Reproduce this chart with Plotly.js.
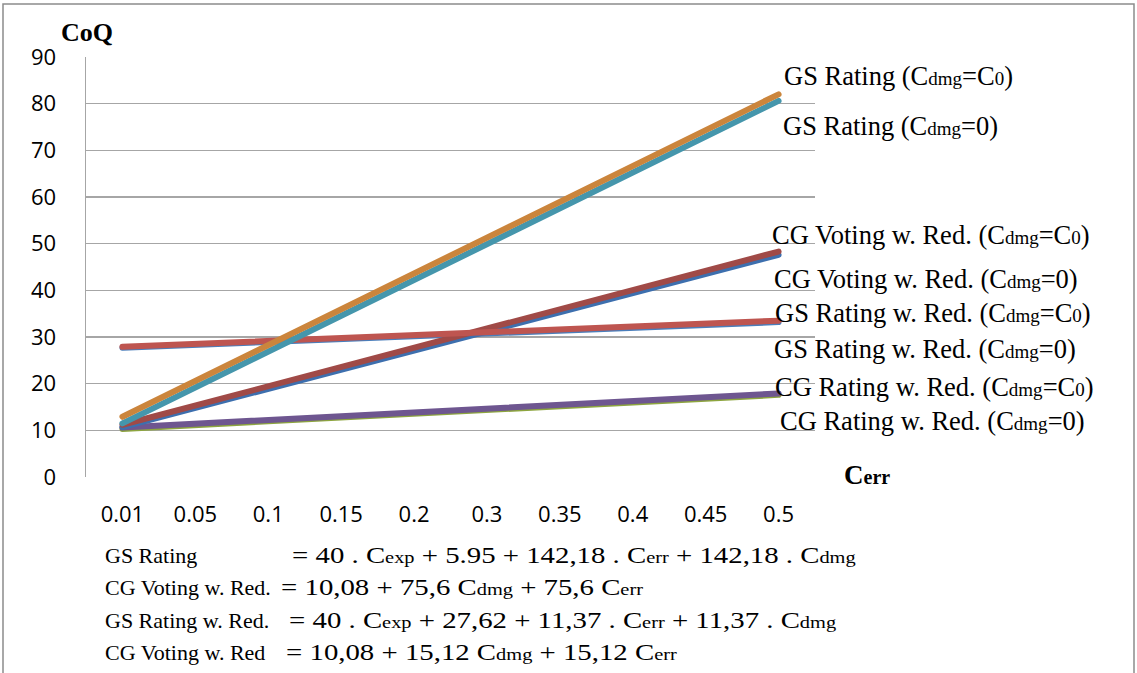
<!DOCTYPE html>
<html>
<head>
<meta charset="utf-8">
<script src="https://cdn.plot.ly/plotly-3.0.1.min.js"></script>
<style>
html,body{margin:0;padding:0;background:#fff;}
#chart{width:1137px;height:673px;}
.scatterlayer .js-line{stroke-linecap:round !important;}
g.annotation[data-index="11"] text.annotation-text,
g.annotation[data-index="13"] text.annotation-text,
g.annotation[data-index="15"] text.annotation-text,
g.annotation[data-index="17"] text.annotation-text{
  transform-box: fill-box; transform-origin: left center; transform: scaleX(1.2);
}
</style>
</head>
<body>
<div id="chart"></div>
<script>
// Categories (Cerr)
const categories = ["0.01","0.05","0.1","0.15","0.2","0.3","0.35","0.4","0.45","0.5"];

// Series values
const gsRatingC0      = [12.9, 20.6, 28.3, 35.9, 43.6, 51.3, 59.0, 66.7, 74.3, 82.0];
const gsRating0       = [11.5, 19.2, 26.9, 34.5, 42.2, 49.9, 57.6, 65.3, 72.9, 80.6];
const cgVotingRedC0   = [11.2, 15.3, 19.4, 23.6, 27.7, 31.8, 35.9, 40.0, 44.2, 48.3];
const cgVotingRed0    = [10.7, 14.8, 18.9, 23.0, 27.1, 31.2, 35.3, 39.4, 43.5, 47.6];
const gsRatingRedC0   = [27.9, 28.5, 29.1, 29.8, 30.4, 31.0, 31.6, 32.2, 32.9, 33.5];
const gsRatingRed0    = [27.7, 28.3, 28.9, 29.5, 30.1, 30.8, 31.4, 32.0, 32.6, 33.2];
const cgRatingRedC0   = [10.6, 11.4, 12.2, 13.0, 13.8, 14.7, 15.5, 16.3, 17.1, 17.9];
const cgRatingRed0    = [10.3, 11.1, 11.9, 12.7, 13.5, 14.4, 15.2, 16.0, 16.8, 17.6];

const yTicks = [0,10,20,30,40,50,60,70,80,90];

const sub = s => '<span style="font-size:19px">' + s + '</span>';
const subF = s => '<span style="font-size:17px">' + s + '</span>';

const seriesNames = [
  "GS Rating (C" + sub("dmg") + "=C" + sub("0") + ")",
  "GS Rating (C" + sub("dmg") + "=0)",
  "CG Voting w. Red. (C" + sub("dmg") + "=C" + sub("0") + ")",
  "CG Voting w. Red. (C" + sub("dmg") + "=0)",
  "GS Rating w. Red. (C" + sub("dmg") + "=C" + sub("0") + ")",
  "GS Rating w. Red. (C" + sub("dmg") + "=0)",
  "CG Rating w. Red. (C" + sub("dmg") + "=C" + sub("0") + ")",
  "CG Rating w. Red. (C" + sub("dmg") + "=0)"
];

function line(y, color, name) {
  return {x: categories, y: y, type: 'scatter', mode: 'lines', name: name,
          line: {color: color, width: 6}, hoverinfo: 'skip'};
}

const data = [
  line(gsRatingRed0, '#4A7EBB', 'GS Rating w. Red. (0)'),
  line(cgRatingRed0, '#8DA53F', 'CG Rating w. Red. (0)'),
  line(cgRatingRedC0, '#6E5690', 'CG Rating w. Red. (C0)'),
  line(cgVotingRed0, '#3D6FAE', 'CG Voting w. Red. (0)'),
  line(cgVotingRedC0, '#A04A47', 'CG Voting w. Red. (C0)'),
  line(gsRatingRedC0, '#BE5550', 'GS Rating w. Red. (C0)'),
  line(gsRating0, '#4596AC', 'GS Rating (0)'),
  line(gsRatingC0, '#CB853C', 'GS Rating (C0)')
];

const serif = 'Liberation Serif, Times New Roman, serif';
const labelFont = {family: serif, size: 26.5, color: '#000'};

// label positions in paper px (left edge, center y)
const labelPos = [[782,76],[781,126],[770,235],[772,279],[773,313],[772,349],[773,387],[778,421]];

const W = 1137, H = 673, L = 86, R = 322, T = 57, B = 196;
const pw = W - L - R, ph = H - T - B;
const px = x => (x - L) / pw;
const py = y => 1 - (y - T) / ph;

const annotations = seriesNames.map((t, i) => ({
  text: t, xref: 'paper', yref: 'paper', x: px(labelPos[i][0]), y: py(labelPos[i][1]),
  xanchor: 'left', yanchor: 'middle', showarrow: false, font: labelFont
}));

annotations.push({text: '<b>CoQ</b>', xref: 'paper', yref: 'paper', x: px(59), y: py(33),
  xanchor: 'left', yanchor: 'middle', showarrow: false, font: {family: serif, size: 26, color: '#000'}});
annotations.push({text: '<b>C<span style="font-size:20px">err</span></b>', xref: 'paper', yref: 'paper', x: px(842), y: py(475),
  xanchor: 'left', yanchor: 'middle', showarrow: false, font: {family: serif, size: 27, color: '#000'}});

const formulaLabelFont = {family: serif, size: 22, color: '#000'};
const formulaFont = {family: serif, size: 24, color: '#000'};
const formulaLabels = ["GS Rating", "CG Voting w. Red.", "GS Rating w. Red.", "CG Voting w. Red"];
const formulaTexts = [
  "= 40 . C" + subF("exp") + " + 5.95 + 142,18 . C" + subF("err") + " + 142,18 . C" + subF("dmg"),
  "= 10,08 + 75,6 C" + subF("dmg") + " + 75,6 C" + subF("err"),
  "= 40 . C" + subF("exp") + " + 27,62 + 11,37 . C" + subF("err") + " + 11,37 . C" + subF("dmg"),
  "= 10,08 + 15,12 C" + subF("dmg") + " + 15,12 C" + subF("err")
];
const formulaY = [555, 587, 620, 652];
const formulaX = [290, 279, 287, 284];
formulaLabels.forEach((t, i) => {
  annotations.push({text: t, xref: 'paper', yref: 'paper', x: px(103), y: py(formulaY[i]),
    xanchor: 'left', yanchor: 'middle', showarrow: false, font: formulaLabelFont});
  annotations.push({text: formulaTexts[i], xref: 'paper', yref: 'paper', x: px(formulaX[i]), y: py(formulaY[i]),
    xanchor: 'left', yanchor: 'middle', showarrow: false, font: formulaFont});
});

const layout = {
  width: W, height: H,
  margin: {l: L, r: R, t: T, b: B, pad: 0},
  paper_bgcolor: '#fff', plot_bgcolor: '#fff',
  showlegend: false,
  font: {family: 'Open Sans, sans-serif', size: 22, color: '#000'},
  xaxis: {
    type: 'category', range: [-0.5, 9.5], showgrid: false, zeroline: false,
    showline: false, ticks: '', ticklabelstandoff: 22,
    tickfont: {family: 'Open Sans, sans-serif', size: 22, color: '#000'}
  },
  yaxis: {
    range: [0, 90], tickvals: yTicks, ticktext: yTicks.map(String),
    showgrid: true, gridcolor: '#A6A6A6', gridwidth: 1.5,
    zeroline: false, showline: true, linecolor: '#A6A6A6', linewidth: 1.5,
    ticks: '', ticklabelstandoff: 24, fixedrange: true,
    tickfont: {family: 'Open Sans, sans-serif', size: 22, color: '#000'}
  },
  annotations: annotations,
  shapes: [
    {type: 'rect', xref: 'paper', yref: 'paper', x0: px(3), x1: px(1134), y0: py(700), y1: py(4),
     line: {color: '#8C8C8C', width: 1.5}, fillcolor: 'rgba(0,0,0,0)', layer: 'below'}
  ]
};

Plotly.newPlot('chart', data, layout, {staticPlot: true, displayModeBar: false});
</script>
</body>
</html>
